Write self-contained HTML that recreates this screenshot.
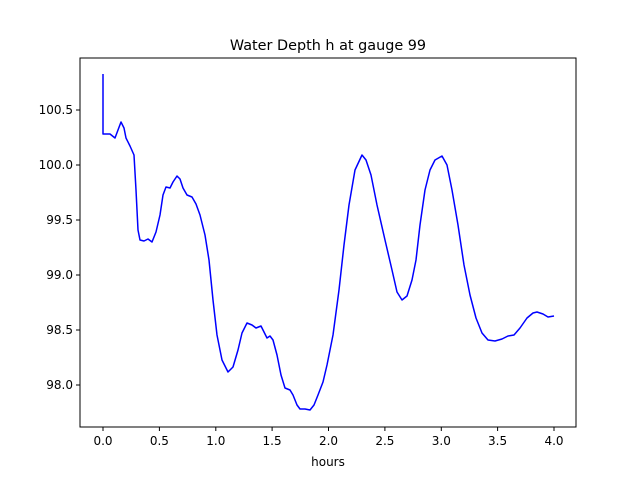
<!DOCTYPE html>
<html><head><style>body{margin:0;background:#fff}svg{display:block;font-family:"DejaVu Sans","Liberation Sans",sans-serif}</style></head>
<body>
<svg width="640" height="480" viewBox="0 0 640 480">
<rect width="640" height="480" fill="#fff"/>
<polyline fill="none" stroke="#0000ff" stroke-width="1.5" stroke-linejoin="round" points="103,74 103,134 110,134 115,138 118,130 121,122 124,128 126,138 130,146 134,155 136,190 138,230 140,240 144,241 148,239 152,242 156,232 160,215 163,195 166,187 170,188 173,182 177,176 180,179 183,188 187,195 192,197 196,204 200,215 205,235 209,260 213,300 217,335 222,360 228,372 233,367 238,350 242,333 247,323 252,325 256,328 261,326 264,332 267,338 270,336 273,340 277,355 281,375 285,388 290,390 293,395 297,405 300,409 305,409 310,410 314,405 318,395 323,382 327,365 333,335 339,290 344,245 349,205 355,170 362,155 366,160 371,175 377,205 385,240 392,270 397,292 402,300 407,296 412,280 416,260 420,225 425,190 430,170 435,160 442,156 447,165 452,190 458,225 464,265 470,295 476,318 482,333 488,340 495,341 502,339 508,336 514,335 520,328 527,318 533,313 537,312 543,314 548,317 554,316"/>
<rect x="80" y="58" width="496" height="369" fill="none" stroke="#000" stroke-width="1"/>
<g stroke="#000" stroke-width="1">
<line x1="103" y1="427" x2="103" y2="431"/><line x1="159.4" y1="427" x2="159.4" y2="431"/><line x1="215.8" y1="427" x2="215.8" y2="431"/><line x1="272.1" y1="427" x2="272.1" y2="431"/><line x1="328.5" y1="427" x2="328.5" y2="431"/><line x1="384.9" y1="427" x2="384.9" y2="431"/><line x1="441.3" y1="427" x2="441.3" y2="431"/><line x1="497.6" y1="427" x2="497.6" y2="431"/><line x1="554" y1="427" x2="554" y2="431"/>
<line x1="76" y1="110" x2="80" y2="110"/><line x1="76" y1="165" x2="80" y2="165"/><line x1="76" y1="220" x2="80" y2="220"/><line x1="76" y1="275" x2="80" y2="275"/><line x1="76" y1="330" x2="80" y2="330"/><line x1="76" y1="385" x2="80" y2="385"/>
</g>
<g font-size="12" fill="#000" text-anchor="middle">
<text x="103" y="445">0.0</text><text x="159.4" y="445">0.5</text><text x="215.8" y="445">1.0</text><text x="272.1" y="445">1.5</text><text x="328.5" y="445">2.0</text><text x="384.9" y="445">2.5</text><text x="441.3" y="445">3.0</text><text x="497.6" y="445">3.5</text><text x="554" y="445">4.0</text>
<text x="328" y="466">hours</text>
</g>
<g font-size="12" fill="#000" text-anchor="end">
<text x="73" y="114">100.5</text><text x="73" y="169">100.0</text><text x="73" y="224">99.5</text><text x="73" y="279">99.0</text><text x="73" y="334">98.5</text><text x="73" y="389">98.0</text>
</g>
<text x="328" y="50" font-size="14.4" text-anchor="middle">Water Depth h at gauge 99</text>
</svg>
</body></html>
